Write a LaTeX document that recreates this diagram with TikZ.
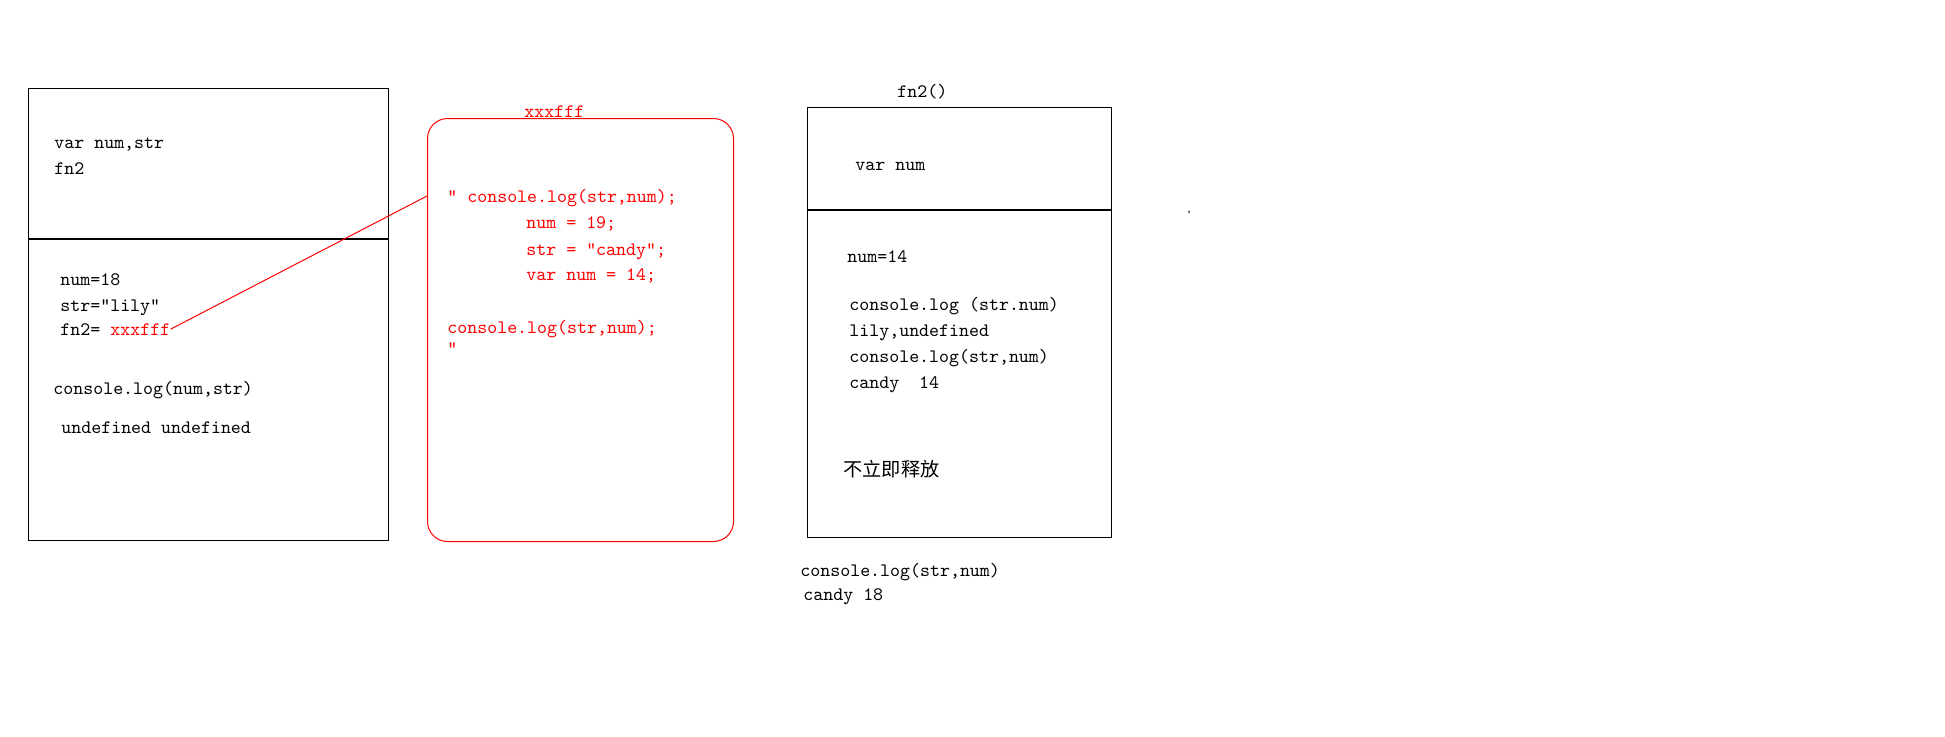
\documentclass[tikz,border=0pt]{standalone}
\usepackage{fontspec}
\newfontfamily\cjk{Noto Sans CJK SC}
\begin{document}
\begin{tikzpicture}[x=0.5pt,y=-0.5pt,
    txt/.style={anchor=base west,inner sep=0pt,font=\ttfamily\fontsize{9.5pt}{11pt}\selectfont},
    frame/.style={draw,line width=0.6pt,anchor=north west,inner sep=0pt}]
\useasboundingbox (0,0) rectangle (1945,736);

% global scope
\node[frame,minimum width=180pt,minimum height=226pt] (global) at (28,88) {};
\draw[line width=0.6pt] (global.west |- 0,239) -- (global.east |- 0,239);
\node[txt] (g1) at (54,148) {var num,str};
\node[txt] (g2) at (54,174) {fn2};
\node[txt] (g3) at (60,285) {num=18};
\node[txt] (g4) at (60,311) {str="lily"};
\node[txt] (g5) at (60,335) {fn2=};
\node[txt,red] (ref) at (110,335) {xxxfff};
\node[txt] (g6) at (53,394) {console.log(num,str)};
\node[txt] (g7) at (61,433) {undefined undefined};

% heap
\node[frame,red,line width=0.5pt,rounded corners=10pt,minimum width=153pt,minimum height=211.5pt] (heap) at (427,118) {};
\node[txt,red] (addr) at (524,117) {xxxfff};
\node[txt,red] (c1) at (447,202) {" console.log(str,num);};
\node[txt,red] (c2) at (526,228) {num = 19;};
\node[txt,red] (c3) at (526,255) {str = "candy";};
\node[txt,red] (c4) at (526,280) {var num = 14;};
\node[txt,red] (c5) at (447,333) {console.log(str,num);};
\node[txt,red] (c6) at (447,354) {"};
\draw[red,line width=0.5pt] (ref.east) -- (heap.west |- 0,196);

% fn2 scope
\node[frame,minimum width=152pt,minimum height=215pt] (fnscope) at (807,107) {};
\draw[line width=0.6pt] (fnscope.west |- 0,210) -- (fnscope.east |- 0,210);
\node[txt] (f0) at (897,97) {fn2()};
\node[txt] (f1) at (855,170) {var num};
\node[txt] (f2) at (847,262) {num=14};
\node[txt] (f3) at (849,310) {console.log (str.num)};
\node[txt] (f4) at (849,336) {lily,undefined};
\node[txt] (f5) at (849,362) {console.log(str,num)};
\node[txt] (f6) at (849,388) {candy\ \ 14};
\node[anchor=base west,inner sep=0pt,font=\cjk\fontsize{9.6pt}{10pt}\selectfont] (f7) at (843,476) {不立即释放};

\node[txt] (o1) at (800,576) {console.log(str,num)};
\node[txt] (o2) at (803,600) {candy 18};
\node[txt,font=\ttfamily\tiny] (mark) at (1186,212) {,};
\end{tikzpicture}
\end{document}
